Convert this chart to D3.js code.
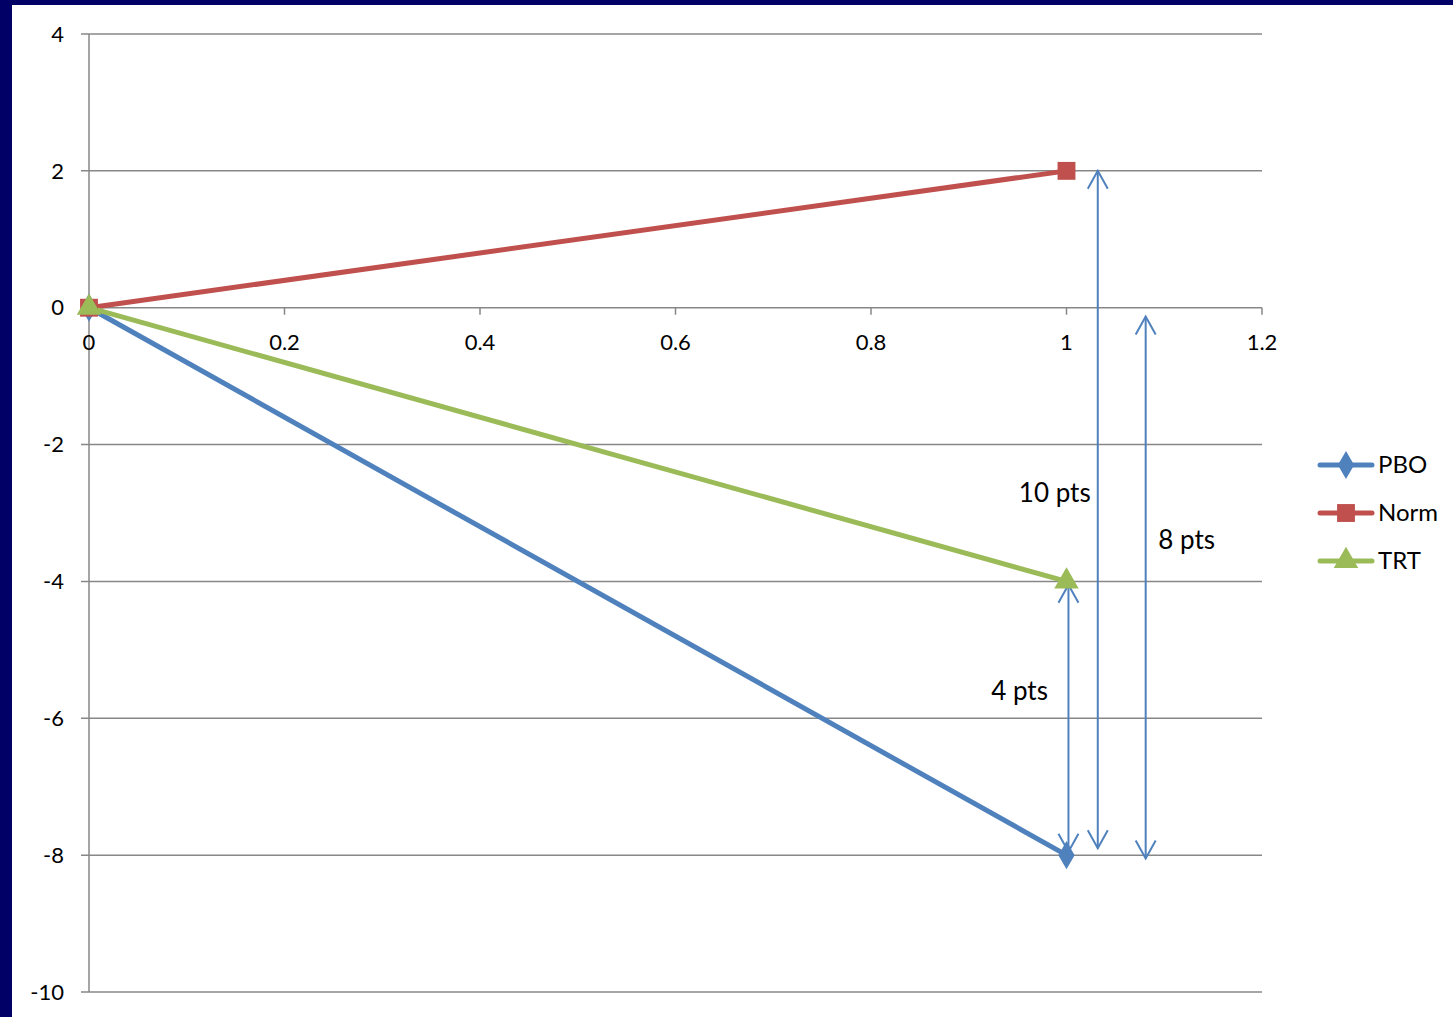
<!DOCTYPE html>
<html><head><meta charset="utf-8">
<script src="https://cdn.jsdelivr.net/npm/d3@7"></script>
<style>
html,body{margin:0;padding:0;background:#fff;}
svg{display:block;}
text{font-family:Lato,"Open Sans",sans-serif;fill:#000;}
</style></head><body>
<svg id="c" width="1453" height="1017"></svg>
<script>
const xValues = [0, 1];
const seriesNames = ["PBO", "Norm", "TRT"];
const pboValues = [0, -8];
const normValues = [0, 2];
const trtValues = [0, -4];
const xTicks = [0, 0.2, 0.4, 0.6, 0.8, 1, 1.2];
const yTicks = [4, 2, 0, -2, -4, -6, -8, -10];
// annotation arrows
const arrowX = [1.002, 1.032, 1.081];
const arrowFrom = [-4.05, 2, -0.13];
const arrowTo = [-7.95, -7.9, -8.05];
const arrowLabels = ["4 pts", "10 pts", "8 pts"];
const arrowLabelX = [0.952, 0.988, 1.123];
const arrowLabelY = [-5.6, -2.7, -3.4];

const colors = {PBO:"#4F81BD", Norm:"#C0504D", TRT:"#9BBB59"};
const svg = d3.select("#c");
svg.append("rect").attr("x",0).attr("y",0).attr("width",1453).attr("height",1017).attr("fill","#000066");
svg.append("rect").attr("x",12).attr("y",5).attr("width",1441).attr("height",1012).attr("fill","#fff");

const x = d3.scaleLinear().domain([0,1.2]).range([89,1262]);
const y = d3.scaleLinear().domain([-10,4]).range([992,34]);

svg.append("g").selectAll("line").data(yTicks).join("line")
  .attr("x1",81).attr("x2",1262).attr("y1",d=>y(d)).attr("y2",d=>y(d))
  .attr("stroke","#878787").attr("stroke-width",1.5);
svg.append("line").attr("x1",x(0)).attr("x2",x(0)).attr("y1",y(4)).attr("y2",y(-10))
  .attr("stroke","#878787").attr("stroke-width",1.5);
svg.append("g").selectAll("text").data(yTicks).join("text")
  .attr("x",64).attr("y",d=>y(d)).attr("dy","0.35em").attr("text-anchor","end")
  .attr("font-size",22).text(d=>d);
svg.append("g").selectAll("line").data(xTicks).join("line")
  .attr("x1",d=>x(d)).attr("x2",d=>x(d)).attr("y1",y(0)).attr("y2",y(0)+7)
  .attr("stroke","#878787").attr("stroke-width",1.5);
svg.append("g").selectAll("text").data(xTicks).join("text")
  .attr("x",d=>x(d)).attr("y",y(0)+35).attr("dy","0.35em").attr("text-anchor","middle")
  .attr("font-size",22).text(d=>d);

const ag = svg.append("g").attr("stroke","#4F81BD").attr("stroke-width",2).attr("fill","none");
arrowX.forEach((ax,i)=>{
  const px = x(ax), pa = y(arrowFrom[i]), pb = y(arrowTo[i]);
  ag.append("line").attr("x1",px).attr("x2",px).attr("y1",pa).attr("y2",pb);
  ag.append("path").attr("d",`M${px-10},${pa+18}L${px},${pa}L${px+10},${pa+18}`);
  ag.append("path").attr("d",`M${px-10},${pb-18}L${px},${pb}L${px+10},${pb-18}`);
});
svg.append("g").selectAll("text").data(arrowLabels).join("text")
  .attr("x",(d,i)=>x(arrowLabelX[i])).attr("y",(d,i)=>y(arrowLabelY[i])).attr("dy","0.35em")
  .attr("text-anchor","middle").attr("font-size",26).text(d=>d);

const series = [
  {name:"PBO", values:pboValues, shape:d3.symbolDiamond},
  {name:"Norm", values:normValues, shape:d3.symbolSquare},
  {name:"TRT", values:trtValues, shape:d3.symbolTriangle}
];
const symSize = {PBO:230, Norm:320, TRT:260};
const line = d3.line().x(d=>x(d[0])).y(d=>y(d[1]));
series.forEach(s=>{
  const pts = xValues.map((xv,i)=>[xv,s.values[i]]);
  svg.append("path").attr("d",line(pts)).attr("stroke",colors[s.name]).attr("stroke-width",5).attr("fill","none");
});
series.forEach(s=>{
  const pts = xValues.map((xv,i)=>[xv,s.values[i]]);
  svg.append("g").selectAll("path").data(pts).join("path")
    .attr("transform",d=>`translate(${x(d[0])},${y(d[1])})`)
    .attr("d",d3.symbol().type(s.shape).size(symSize[s.name]))
    .attr("fill",colors[s.name]);
});

const lg = svg.append("g");
series.forEach((s,i)=>{
  const ly = 465 + i*48;
  lg.append("line").attr("x1",1320).attr("x2",1372).attr("y1",ly).attr("y2",ly)
    .attr("stroke",colors[s.name]).attr("stroke-width",5).attr("stroke-linecap","round");
  lg.append("path").attr("transform",`translate(1346,${ly})`)
    .attr("d",d3.symbol().type(s.shape).size(symSize[s.name]))
    .attr("fill",colors[s.name]);
  lg.append("text").attr("x",1378).attr("y",ly).attr("dy","0.35em").attr("font-size",24).text(s.name);
});
</script>
</body></html>
